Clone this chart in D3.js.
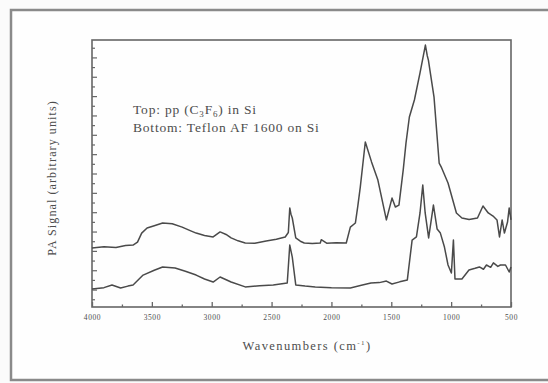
<!DOCTYPE html>
<html>
<head>
<meta charset="utf-8">
<script src="https://cdn.jsdelivr.net/npm/d3@7"></script>
<style>
  html, body { margin: 0; padding: 0; background: #fbfbfb; }
  svg { display: block; }
  text { font-family: "Liberation Serif", "DejaVu Serif", serif; fill: #4d4d4d; }
</style>
</head>
<body>
<svg id="chart" width="548" height="383"></svg>
<script>
// ---- data ----
const xTickValues = [4000, 3500, 3000, 2500, 2000, 1500, 1000, 500];
const xTickLabels = ["4000", "3500", "3000", "2500", "2000", "1500", "1000", "500"];

// Top: pp (C3F6) in Si  — wavenumber (cm^-1)
const topWavenumbers = [4000, 3900, 3800, 3720, 3657, 3620, 3585, 3540, 3480, 3410, 3330, 3247, 3180, 3130, 3060, 2988, 2930, 2880, 2838, 2780, 2720, 2640, 2545, 2460, 2386, 2360, 2348, 2338, 2327, 2298, 2260, 2227, 2160, 2093, 2085, 2040, 1960, 1876, 1842, 1800, 1780, 1759, 1717, 1665, 1612, 1541, 1494, 1466, 1436, 1400, 1377, 1349, 1307, 1260, 1215, 1200, 1190, 1143, 1100, 1080, 1026, 956, 910, 850, 780, 734, 690, 650, 617, 596, 574, 555, 529, 515, 500];
const topSignal = [2.15, 2.22, 2.18, 2.28, 2.30, 2.45, 2.92, 3.18, 3.30, 3.44, 3.40, 3.23, 3.05, 2.92, 2.80, 2.72, 2.98, 2.85, 2.67, 2.52, 2.41, 2.40, 2.51, 2.60, 2.72, 2.95, 4.22, 3.90, 3.70, 2.67, 2.50, 2.41, 2.38, 2.41, 2.58, 2.40, 2.42, 2.41, 3.23, 3.44, 4.30, 5.30, 7.63, 6.60, 5.66, 3.60, 4.73, 4.27, 4.37, 6.20, 7.58, 8.92, 9.80, 11.20, 12.64, 12.10, 11.86, 9.95, 6.54, 6.30, 5.51, 3.96, 3.70, 3.62, 3.70, 4.32, 3.96, 3.80, 3.60, 2.72, 3.60, 2.92, 3.49, 4.22, 3.60];

// Bottom: Teflon AF 1600 on Si
const bottomWavenumbers = [4000, 3900, 3833, 3761, 3700, 3657, 3573, 3480, 3410, 3306, 3220, 3130, 3060, 2988, 2930, 2838, 2720, 2600, 2486, 2369, 2348, 2338, 2327, 2298, 2220, 2135, 2000, 1842, 1750, 1670, 1600, 1541, 1494, 1430, 1366, 1326, 1290, 1260, 1237, 1217, 1188, 1148, 1117, 1090, 1056, 1026, 998, 981, 968, 910, 851, 800, 764, 730, 705, 670, 647, 610, 588, 546, 515, 500];
const bottomSignal = [0.03, 0.10, 0.24, 0.08, 0.18, 0.24, 0.75, 1.00, 1.17, 1.12, 0.95, 0.75, 0.55, 0.39, 0.65, 0.39, 0.14, 0.20, 0.24, 0.34, 2.30, 2.00, 1.68, 0.24, 0.18, 0.14, 0.10, 0.08, 0.22, 0.34, 0.36, 0.44, 0.29, 0.40, 0.50, 2.56, 2.72, 3.96, 5.40, 3.96, 2.67, 4.37, 3.13, 2.92, 2.20, 1.27, 0.86, 2.56, 0.55, 0.55, 1.01, 1.10, 1.17, 1.05, 1.27, 1.15, 1.38, 1.20, 1.27, 1.27, 0.91, 1.17];

const seriesNames = ["Top: pp (C3F6) in Si", "Bottom: Teflon AF 1600 on Si"];

// ---- layout ----
const svg = d3.select("#chart");
const plot = { left: 92, right: 511, top: 40, bottom: 307 };

// outer scanned frame
svg.append("rect")
  .attr("x", 11).attr("y", 10).attr("width", 600).attr("height", 370)
  .attr("fill", "#fefefe").attr("stroke", "#8a8a8a").attr("stroke-width", 2.5);

const x = d3.scaleLinear().domain([4000, 500]).range([plot.left, plot.right]);
const y = d3.scaleLinear().domain([-0.9, 12.9]).range([plot.bottom, plot.top]);

// plot frame
svg.append("rect")
  .attr("x", plot.left).attr("y", plot.top)
  .attr("width", plot.right - plot.left).attr("height", plot.bottom - plot.top)
  .attr("fill", "none").attr("stroke", "#666").attr("stroke-width", 1.6);

// x axis: major ticks inward with labels, minor ticks between
const xAxis = d3.axisBottom(x).tickValues(xTickValues)
  .tickFormat((d, i) => xTickLabels[i]).tickSizeInner(-5).tickSizeOuter(0).tickPadding(8);
const gx = svg.append("g").attr("transform", `translate(0,${plot.bottom})`).call(xAxis);
gx.select(".domain").remove();
gx.selectAll("line").attr("stroke", "#666").attr("stroke-width", 1.3);
gx.selectAll("text").style("font-size", "7.5px").style("letter-spacing", "0.6px")
  .attr("fill", "#555").style("font-family", "Liberation Serif, serif");

const xMinor = d3.axisBottom(x).tickValues(d3.range(3750, 500, -500)).tickSize(-2.5).tickFormat("");
const gxm = svg.append("g").attr("transform", `translate(0,${plot.bottom})`).call(xMinor);
gxm.select(".domain").remove();
gxm.selectAll("line").attr("stroke", "#666").attr("stroke-width", 1.3);

// y axis: no labels, major + minor ticks inward
const yAxis = d3.axisLeft(y).tickValues(d3.range(0, 13, 1)).tickSize(-5).tickFormat("");
const gy = svg.append("g").attr("transform", `translate(${plot.left},0)`).call(yAxis);
gy.select(".domain").remove();
gy.selectAll("line").attr("stroke", "#666").attr("stroke-width", 1.2);

const yMinor = d3.axisLeft(y).tickValues(d3.range(-0.5, 12.9, 1)).tickSize(-3).tickFormat("");
const gym = svg.append("g").attr("transform", `translate(${plot.left},0)`).call(yMinor);
gym.select(".domain").remove();
gym.selectAll("line").attr("stroke", "#666").attr("stroke-width", 1.2);

// spectra
const line = d3.line().x(d => x(d[0])).y(d => y(d[1])).curve(d3.curveLinear);
const topData = topWavenumbers.map((w, i) => [w, topSignal[i]]);
const bottomData = bottomWavenumbers.map((w, i) => [w, bottomSignal[i]]);
[topData, bottomData].forEach(dat => {
  svg.append("path").datum(dat).attr("d", line)
    .attr("fill", "none").attr("stroke", "#4a4a4a").attr("stroke-width", 1.5)
    .attr("stroke-linejoin", "round");
});

// legend text
const leg = svg.append("g").style("font-size", "13.5px").style("letter-spacing", "0.8px");
const t1 = leg.append("text").attr("x", 133).attr("y", 114);
t1.append("tspan").text("Top:  pp (C");
t1.append("tspan").text("3").attr("dy", 3).style("font-size", "9px");
t1.append("tspan").text("F").attr("dy", -3);
t1.append("tspan").text("6").attr("dy", 3).style("font-size", "9px");
t1.append("tspan").text(") in Si").attr("dy", -3);
leg.append("text").attr("x", 133).attr("y", 132).text("Bottom:  Teflon AF 1600 on Si");

// axis titles
const xt = svg.append("text").attr("x", 307).attr("y", 350).attr("text-anchor", "middle")
  .style("font-size", "12.5px").style("letter-spacing", "1.4px");
xt.append("tspan").text("Wavenumbers (cm");
xt.append("tspan").text("-1").attr("dy", -5).style("font-size", "7px");
xt.append("tspan").text(")").attr("dy", 5);

svg.append("text").attr("transform", "translate(56,178) rotate(-90)")
  .attr("text-anchor", "middle").style("font-size", "12px").style("letter-spacing", "1.1px")
  .text("PA Signal (arbitrary units)");
</script>
</body>
</html>
